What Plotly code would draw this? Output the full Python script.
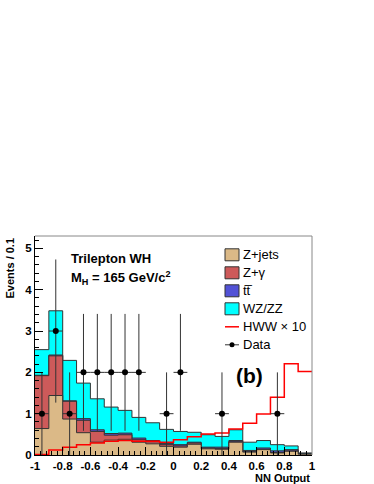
import numpy as np
import plotly.graph_objects as go

# NN output histogram, 20 bins of width 0.1 from -1 to 1
bin_edges = [round(-1 + 0.1 * i, 1) for i in range(21)]
bin_width = 0.1

# Stacked backgrounds (events / 0.1)
z_jets = [0.64, 1.44, 0.87, 0.54, 0.31, 0.36, 0.38, 0.31, 0.27, 0.21,
          0.19, 0.26, 0.15, 0.14, 0.31, 0.07, 0.13, 0.05, 0.09, 0.02]
z_gamma = [1.28, 0.96, 0.43, 0.30, 0.26, 0.12, 0.11, 0.06, 0.05, 0.04,
           0.03, 0.03, 0.02, 0.02, 0.01, 0.01, 0.01, 0.01, 0.01, 0.00]
ttbar = [0.01, 0.02, 0.01, 0.04, 0.04, 0.04, 0.04, 0.04, 0.03, 0.03,
         0.03, 0.02, 0.02, 0.03, 0.03, 0.03, 0.03, 0.04, 0.03, 0.01]
wz_zz = [0.62, 1.07, 0.98, 0.86, 0.75, 0.64, 0.55, 0.50, 0.43, 0.34,
         0.32, 0.24, 0.30, 0.26, 0.26, 0.20, 0.18, 0.15, 0.09, 0.02]

# Signal scaled by 10
hww_x10 = [0.01, 0.12, 0.19, 0.25, 0.29, 0.33, 0.35, 0.33, 0.33, 0.31,
           0.37, 0.44, 0.51, 0.53, 0.63, 0.77, 0.99, 1.40, 2.21, 2.02]

# Observed events per bin
data_counts = [1, 3, 1, 2, 2, 2, 2, 2, 0, 1,
               2, 0, 0, 1, 0, 0, 0, 1, 0, 0]

x_tickvals = [-1, -0.8, -0.6, -0.4, -0.2, 0, 0.2, 0.4, 0.6, 0.8, 1]
x_ticktext = ['-1', '-0.8', '-0.6', '-0.4', '-0.2', '0', '0.2', '0.4', '0.6', '0.8', '1']
y_tickvals = [0, 1, 2, 3, 4, 5]

colors = {
    'Z+jets': '#dbb987',
    'Z+gamma': '#cd5a5a',
    'ttbar': '#5252d6',
    'WZ/ZZ': '#00ffff',
    'HWW': '#ff0000',
}
FONT = 'Liberation Sans, Arial, sans-serif'

W, H = 374, 484
# plot area in pixels
L, R, T, B = 35, 312, 236, 455


def px(xp):
    return (xp - L) / (R - L)


def py(yp):
    return (B - yp) / (B - T)


def steps(vals):
    return bin_edges, list(vals) + [vals[-1]]


# cumulative stack tops
stack_jets = np.array(z_jets)
stack_gamma = stack_jets + np.array(z_gamma)
stack_tt = stack_gamma + np.array(ttbar)
stack_all = stack_tt + np.array(wz_zz)

fig = go.Figure()

# draw tallest stack first, each filled down to zero
for vals, col in [(stack_all, colors['WZ/ZZ']),
                  (stack_tt, colors['ttbar']),
                  (stack_gamma, colors['Z+gamma']),
                  (stack_jets, colors['Z+jets'])]:
    xs, ys = steps(vals)
    fig.add_trace(go.Scatter(
        x=xs, y=ys, mode='lines', line_shape='hv',
        fill='tozeroy', fillcolor=col,
        line=dict(color='#333333', width=1),
        showlegend=False, hoverinfo='skip'
    ))

# HWW x 10 signal
xs, ys = steps(hww_x10)
fig.add_trace(go.Scatter(
    x=xs, y=ys, mode='lines', line_shape='hv',
    line=dict(color=colors['HWW'], width=1.5),
    showlegend=False, hoverinfo='skip'
))

# Data points with sqrt(N) errors
centers = [e + bin_width / 2 for e in bin_edges[:-1]]
dx = [c for c, n in zip(centers, data_counts) if n > 0]
dy = [n for n in data_counts if n > 0]
fig.add_trace(go.Scatter(
    x=dx, y=dy, mode='markers',
    marker=dict(color='black', size=6),
    error_y=dict(type='data', array=list(np.sqrt(dy)), color='#333333',
                 thickness=1, width=0),
    error_x=dict(type='constant', value=bin_width / 2, color='#333333',
                 thickness=1, width=0),
    showlegend=False
))

shapes = [
    dict(type='line', xref='paper', yref='paper', x0=0, x1=1, y0=1, y1=1,
         line=dict(color='#888888', width=1)),
    dict(type='line', xref='paper', yref='paper', x0=1, x1=1, y0=0, y1=1,
         line=dict(color='#888888', width=1)),
]
annotations = []

# Legend (drawn by hand to mimic ROOT)
legend_rows = [
    ('Z+jets', 'box', colors['Z+jets']),
    ('Z+\u03b3', 'box', colors['Z+gamma']),
    ('tt\u0305', 'box', colors['ttbar']),
    ('WZ/ZZ', 'box', colors['WZ/ZZ']),
    ('HWW \u00d7 10', 'line', colors['HWW']),
    ('Data', 'data', 'black'),
]
row_y0, row_step = 254.8, 18.0
for i, (label, kind, col) in enumerate(legend_rows):
    yc = row_y0 + i * row_step
    if kind == 'box':
        shapes.append(dict(type='rect', xref='paper', yref='paper',
                           x0=px(225), x1=px(239), y0=py(yc + 6), y1=py(yc - 6),
                           fillcolor=col, line=dict(color='#333333', width=1)))
    elif kind == 'line':
        shapes.append(dict(type='line', xref='paper', yref='paper',
                           x0=px(225), x1=px(239), y0=py(yc), y1=py(yc),
                           line=dict(color=col, width=1.5)))
    else:
        shapes.append(dict(type='line', xref='paper', yref='paper',
                           x0=px(225), x1=px(239), y0=py(yc), y1=py(yc),
                           line=dict(color='#333333', width=1)))
        shapes.append(dict(type='circle', xref='paper', yref='paper',
                           x0=px(229.5), x1=px(234.5), y0=py(yc + 2.5), y1=py(yc - 2.5),
                           fillcolor='black', line=dict(color='black', width=0)))
    annotations.append(dict(x=px(241), y=py(yc), xref='paper', yref='paper',
                            text=label, showarrow=False, xanchor='left',
                            yanchor='middle', font=dict(family=FONT, size=13, color='black')))

# Labels inside the frame
annotations += [
    dict(x=px(69), y=py(258), xref='paper', yref='paper', showarrow=False,
         text='<b>Trilepton WH</b>', xanchor='left', yanchor='middle',
         font=dict(family=FONT, size=13, color='black')),
    dict(x=px(69), y=py(278), xref='paper', yref='paper', showarrow=False,
         text='<b>M<sub>H</sub> = 165 GeV/c<sup>2</sup></b>', xanchor='left', yanchor='middle',
         font=dict(family=FONT, size=13, color='black')),
    dict(x=px(249), y=py(375), xref='paper', yref='paper', showarrow=False,
         text='<b>(b)</b>', xanchor='center', yanchor='middle',
         font=dict(family=FONT, size=21, color='black')),
    # axis titles
    dict(x=px(9), y=1, xref='paper', yref='paper', showarrow=False,
         text='<b>Events / 0.1</b>', textangle=-90, xanchor='center', yanchor='top',
         font=dict(family=FONT, size=11, color='black')),
    dict(x=1, y=py(477.5), xref='paper', yref='paper', showarrow=False,
         text='<b>NN Output</b>', xanchor='right', yanchor='middle',
         font=dict(family=FONT, size=11, color='black')),
]

fig.update_layout(
    width=W, height=H,
    margin=dict(l=L, r=W - R, t=T, b=H - B),
    paper_bgcolor='white', plot_bgcolor='white',
    showlegend=False,
    shapes=shapes,
    annotations=annotations,
    font=dict(family=FONT, color='black'),
    xaxis=dict(
        range=[-1, 1], tickvals=x_tickvals, ticktext=x_ticktext,
        ticks='inside', ticklen=8, tickcolor='black', showgrid=False,
        zeroline=False, showline=True, linecolor='black', linewidth=1,
        tickfont=dict(family=FONT, size=11.5, weight='bold', color='black'),
        minor=dict(dtick=0.04, tick0=-1, ticks='inside', ticklen=4, tickcolor='black'),
    ),
    yaxis=dict(
        range=[0, 5.3], tickvals=y_tickvals,
        ticks='inside', ticklen=8, tickcolor='black', showgrid=False,
        zeroline=False, showline=True, linecolor='black', linewidth=1,
        tickfont=dict(family=FONT, size=11.5, weight='bold', color='black'),
        minor=dict(dtick=0.2, tick0=0, ticks='inside', ticklen=4, tickcolor='black'),
    ),
)

# drop the default page margin so the figure sits at the window's corner
fig.write_html("out.html", config={'displayModeBar': False},
               post_script="document.body.style.margin='0';")
